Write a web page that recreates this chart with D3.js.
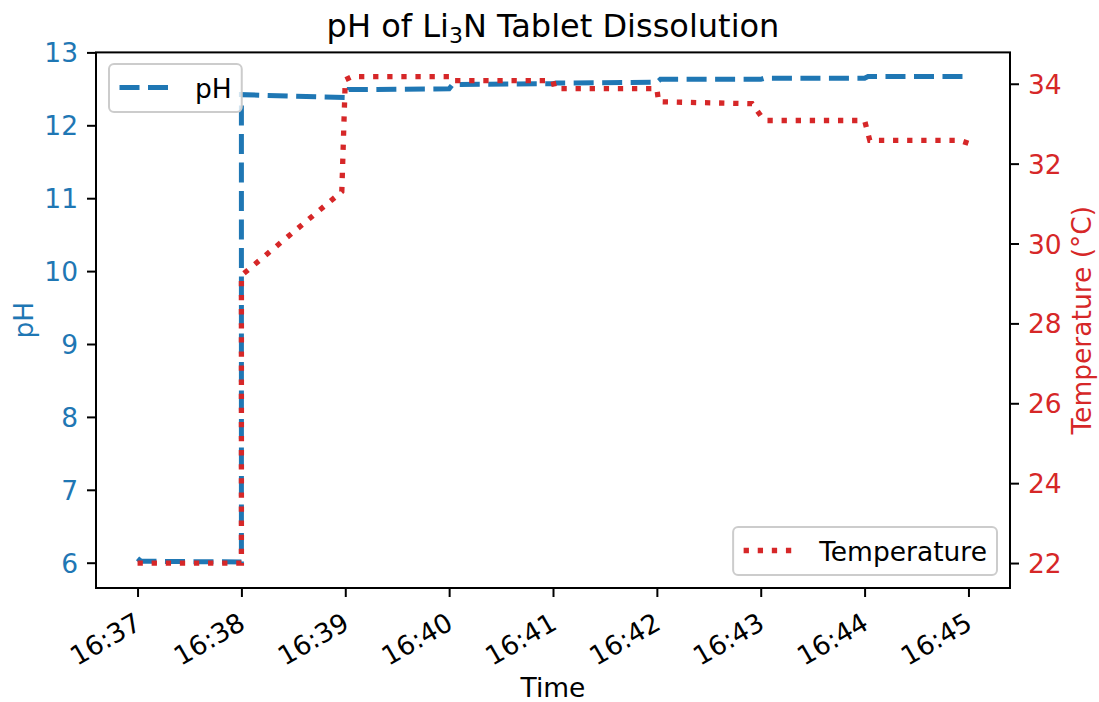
<!DOCTYPE html>
<html>
<head>
<meta charset="utf-8">
<script src="https://cdn.jsdelivr.net/npm/d3@7"></script>
<style>
  body { margin: 0; background: #fff; }
  svg { display: block; font-family: "DejaVu Sans", sans-serif; }
</style>
</head>
<body>
<svg id="chart" width="1099" height="702"></svg>
<script>
// pH readings (time of reading, value)
var phTimes = ["16:37:00", "16:37:02", "16:38:00", "16:38:00", "16:39:00", "16:39:02", "16:40:00", "16:40:02",
               "16:41:00", "16:41:02", "16:42:00", "16:42:02", "16:43:00", "16:43:02", "16:44:00", "16:44:02", "16:45:00"];
var phValues = [6.06, 6.02, 6.01, 12.42, 12.38, 12.49, 12.50, 12.56,
                12.57, 12.58, 12.59, 12.63, 12.63, 12.645, 12.645, 12.67, 12.67];

// temperature readings in degrees C
var tempTimes = ["16:37:00", "16:38:00", "16:38:00", "16:38:58", "16:39:00", "16:39:04", "16:40:00", "16:40:01",
                 "16:41:00", "16:41:01", "16:42:00", "16:42:01", "16:42:55", "16:43:00", "16:43:03", "16:44:00",
                 "16:44:03", "16:44:55", "16:45:00"];
var tempValues = [22.0, 22.0, 29.2, 31.3, 34.1, 34.18, 34.18, 34.08,
                  34.08, 33.88, 33.88, 33.55, 33.5, 33.2, 33.08, 33.08,
                  32.58, 32.58, 32.51];

var phTicks = [6, 7, 8, 9, 10, 11, 12, 13];
var tempTicks = [22, 24, 26, 28, 30, 32, 34];
var timeDomain = ["16:36:36", "16:45:24"];

var blue = "#1f77b4", red = "#d62728";
var fs = 26.5;

// plot box (window.top is reserved, so prefix the names)
var pLeft = 96, pRight = 1010, pTop = 52.4, pBottom = 588;
var parse = d3.timeParse("%H:%M:%S");

var svg = d3.select("#chart");

var x = d3.scaleTime().domain(timeDomain.map(parse)).range([pLeft, pRight]);
var yPh = d3.scaleLinear().domain([5.653, 13.0]).range([pBottom, pTop]);
var yT = d3.scaleLinear().domain([21.375, 34.785]).range([pBottom, pTop]);

var phData = phTimes.map(function(t, i) { return {t: parse(t), v: phValues[i]}; });
var tempData = tempTimes.map(function(t, i) { return {t: parse(t), v: tempValues[i]}; });

// Lines
var phLine = d3.line().x(function(d) { return x(d.t); }).y(function(d) { return yPh(d.v); });
var tLine = d3.line().x(function(d) { return x(d.t); }).y(function(d) { return yT(d.v); });

var gPh = svg.append("g");
gPh.append("path").datum(phData).attr("d", phLine)
    .attr("fill", "none").attr("stroke", blue).attr("stroke-width", 5)
    .attr("stroke-dasharray", "20 8.5");

// Legend box with one entry
function legend(g, x0, y0, label, color, dash, sw) {
    var lg = g.append("g").attr("transform", "translate(" + x0 + "," + y0 + ")");
    var box = lg.append("rect").attr("rx", 5).attr("ry", 5).attr("height", 48)
        .attr("fill", "#fff").attr("fill-opacity", 0.8)
        .attr("stroke", "#cccccc").attr("stroke-width", 2);
    lg.append("line").attr("x1", 10.5).attr("x2", 59).attr("y1", 23.5).attr("y2", 23.5)
        .attr("stroke", color).attr("stroke-width", sw).attr("stroke-dasharray", dash);
    var txt = lg.append("text").attr("x", 86).attr("y", 33.5).attr("font-size", fs)
        .attr("fill", "#000").text(label);
    var w = txt.node().getComputedTextLength();
    box.attr("width", 86 + w + 10);
    return {g: lg, w: 86 + w + 10};
}
legend(gPh, 109, 64, "pH", blue, "20 8.5", 5);

var gT = svg.append("g");
gT.append("path").datum(tempData).attr("d", tLine)
    .attr("fill", "none").attr("stroke", red).attr("stroke-width", 5.3)
    .attr("stroke-dasharray", "5.3 8.8");

var lt = legend(gT, 0, 527, "Temperature", red, "5.3 8.8", 5.3);
lt.g.attr("transform", "translate(" + (997 - lt.w) + ",527)");

// Axes
function styleAxis(g, color) {
    g.select(".domain").remove();
    g.selectAll(".tick line").attr("stroke", "#000").attr("stroke-width", 2);
    g.selectAll(".tick text").attr("font-size", fs).attr("fill", color)
        .attr("font-family", "DejaVu Sans");
}

var axL = svg.append("g").attr("transform", "translate(" + pLeft + ",0)")
    .call(d3.axisLeft(yPh).tickValues(phTicks).tickSize(9).tickPadding(9));
styleAxis(axL, blue);
axL.selectAll(".tick text").attr("dy", "0.36em");

var axR = svg.append("g").attr("transform", "translate(" + pRight + ",0)")
    .call(d3.axisRight(yT).tickValues(tempTicks).tickSize(9).tickPadding(9));
styleAxis(axR, red);
axR.selectAll(".tick text").attr("dy", "0.36em");

var axB = svg.append("g").attr("transform", "translate(0," + pBottom + ")")
    .call(d3.axisBottom(x).ticks(d3.timeMinute.every(1)).tickFormat(d3.timeFormat("%H:%M")).tickSize(9));
styleAxis(axB, "#000");
axB.selectAll(".tick text")
    .attr("text-anchor", "end").attr("y", 0).attr("dy", 0)
    .attr("transform", "translate(5,40) rotate(-30)");

// Frame
svg.append("rect").attr("x", pLeft).attr("y", pTop)
    .attr("width", pRight - pLeft).attr("height", pBottom - pTop)
    .attr("fill", "none").attr("stroke", "#000").attr("stroke-width", 2);

// Labels
var title = svg.append("text").attr("x", (pLeft + pRight) / 2).attr("y", 37)
    .attr("text-anchor", "middle").attr("font-size", 32).attr("fill", "#000");
title.append("tspan").text("pH of Li");
title.append("tspan").attr("font-size", 22).attr("dy", 6).text("3");
title.append("tspan").attr("dy", -6).text("N Tablet Dissolution");

svg.append("text").attr("x", (pLeft + pRight) / 2).attr("y", 697)
    .attr("text-anchor", "middle").attr("font-size", fs).text("Time");

svg.append("text").attr("transform", "translate(33," + (pTop + pBottom) / 2 + ") rotate(-90)")
    .attr("text-anchor", "middle").attr("font-size", fs).attr("fill", blue).text("pH");

svg.append("text").attr("transform", "translate(1091," + (pTop + pBottom) / 2 + ") rotate(-90)")
    .attr("text-anchor", "middle").attr("font-size", fs).attr("fill", red).text("Temperature  (°C)");
</script>
</body>
</html>
